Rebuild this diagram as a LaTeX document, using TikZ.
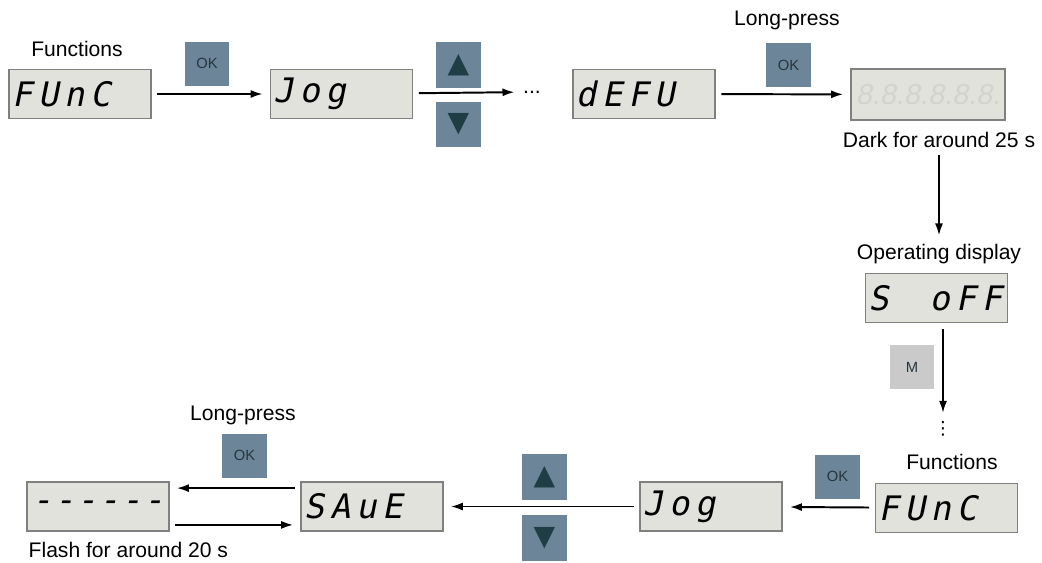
\documentclass[tikz,border=0pt]{standalone}
\usepackage{fontspec}
\setmainfont{Liberation Sans}
\newfontfamily\segfont{DejaVu Sans Mono}[FakeSlant=0.2,LetterSpace=17]
\newfontfamily\segdash{DejaVu Sans Mono}[FakeSlant=0.2,LetterSpace=6]
\newfontfamily\segdim{Liberation Sans}[FakeSlant=0.2]
\newfontfamily\symfont{DejaVu Sans}
\usetikzlibrary{arrows.meta,calc,positioning}
\definecolor{panel}{HTML}{E2E2DD}
\definecolor{rim}{HTML}{808080}
\definecolor{key}{HTML}{6D8599}
\definecolor{keytxt}{HTML}{25363E}
\definecolor{keytri}{HTML}{1F3D44}
\definecolor{mkey}{HTML}{CACACA}
\definecolor{unlit}{HTML}{D3D3CE}
\newcommand\segtext[1]{\makebox[3.4cm][l]{#1}}
\tikzset{disp/.style={draw=rim,line width=1.1pt,fill=panel,minimum width=3.55cm,minimum height=1.22cm,
    inner sep=0pt,font=\segfont\fontsize{24}{24}\selectfont},
  okkey/.style={fill=key,minimum width=1.12cm,minimum height=1.1cm,inner sep=0pt,text=keytxt,
    font=\fontsize{10.5}{10.5}\selectfont},
  mkey/.style={okkey,fill=mkey},
  trikey/.style={okkey,minimum height=1.14cm,text=keytri,font=\symfont\fontsize{20}{20}\selectfont},
  lbl/.style={font=\fontsize{15}{15}\selectfont,inner sep=1pt},
  arr/.style={-{Latex[length=3mm,width=2mm]},line width=1.4pt,shorten <=4pt,shorten >=5pt}}
\begin{document}
\begin{tikzpicture}[x=0.025cm,y=-0.025cm]
\useasboundingbox (0,0) rectangle (1042,562);
% top row
\node[disp] (func1) at (80,94) {\segtext{FUnC}};
\node[lbl] (funclbl1) at (77,49) {Functions};
\node[okkey] (ok1) at (207,63.5) {OK};
\node[disp] (jog1) at (341.5,94) {\segtext{Jog}};
\node[trikey] (up1) at (458.5,65) {▲};
\node[trikey] (down1) at (458.5,124.5) {▼};
\node[lbl] (more1) at (532,92) {...};
\node[disp] (defu) at (644,94) {\segtext{dEFU}};
\node[lbl] (longlbl1) at (787,20) {Long-press};
\node[okkey] (ok2) at (788.5,65) {OK};
\node[disp,minimum width=3.85cm,minimum height=1.27cm,text=unlit,
  font=\segdim\fontsize{20.5}{20.5}\selectfont] (dark) at (928,94.5) {8.8.8.8.8.8.};
\node[lbl] (darklbl) at (939,140) {Dark for around 25 s};
\draw[arr] (func1) -- (jog1);
\draw[arr] (jog1) -- (more1);
\draw[arr] (defu) -- (dark);
% right column
\node[lbl] (oplbl) at (939,254) {Operating display};
\node[disp] (soff) at (936.5,298) {\segtext{S\hspace{1.02cm}oFF}};
\node[mkey] (m) at (912,367) {M};
\node[lbl,font=\symfont\fontsize{13}{13}\selectfont] (more2) at (943,429) {⋮};
\draw[arr] (darklbl) -- (oplbl);
\draw[arr] (soff.south -| more2) -- (more2);
% bottom row
\node[lbl] (funclbl2) at (952,462) {Functions};
\node[disp] (func2) at (946.5,508) {\segtext{FUnC}};
\node[okkey] (ok3) at (837.5,476.5) {OK};
\node[disp] (jog2) at (711,506.5) {\segtext{Jog}};
\node[trikey] (up2) at (544.5,477) {▲};
\node[trikey] (down2) at (544.5,538) {▼};
\node[disp] (save) at (372,506.5) {\segtext{SAuE}};
\node[lbl] (longlbl2) at (243,415) {Long-press};
\node[okkey] (ok4) at (244.5,455.5) {OK};
\node[disp] (dash) at (98,506.5) {\segtext{\segdash\hspace{0.05cm}------}};
\node[lbl,anchor=west] (flashlbl) at (27,550) {Flash for around 20 s};
\draw[arr] (func2) -- (jog2);
\draw[arr] (jog2) -- (save);
\draw[arr] ([yshift=0.46cm]save.west) -- ([yshift=0.46cm]dash.east);
\draw[arr] ([yshift=-0.46cm]dash.east) -- ([yshift=-0.46cm]save.west);
\end{tikzpicture}
\end{document}
